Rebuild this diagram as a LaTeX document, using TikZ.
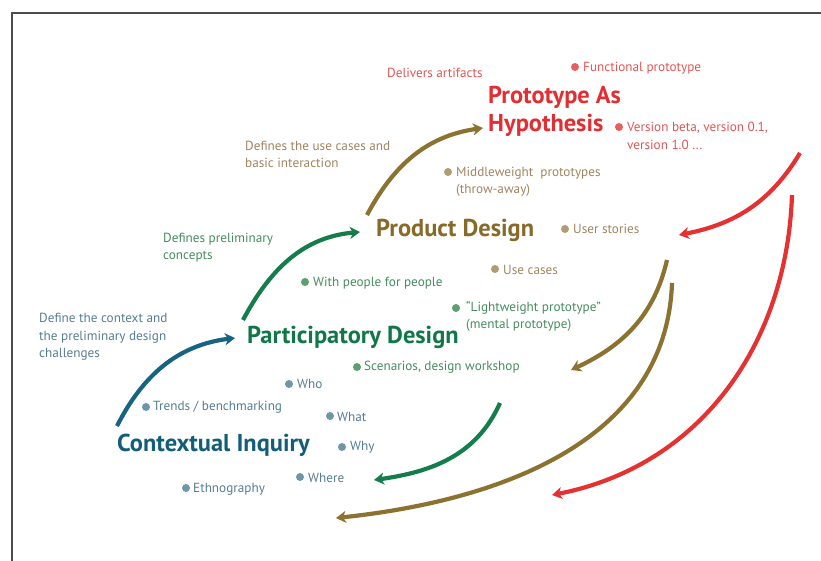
\documentclass[tikz,border=0pt]{standalone}
\usepackage{fontspec}
\setmainfont{PT Sans}
\usetikzlibrary{arrows.meta}

\definecolor{inqcol}{RGB}{18,94,120}
\definecolor{inqtext}{RGB}{85,125,145}
\definecolor{inqdot}{RGB}{110,150,168}
\definecolor{inqarrow}{RGB}{22,100,130}
\definecolor{parcol}{RGB}{16,120,72}
\definecolor{partext}{RGB}{70,140,95}
\definecolor{pardot}{RGB}{92,160,112}
\definecolor{pararrow}{RGB}{20,125,75}
\definecolor{procol}{RGB}{135,105,40}
\definecolor{protext}{RGB}{160,132,95}
\definecolor{prodot}{RGB}{176,155,115}
\definecolor{proarrow}{RGB}{140,114,48}
\definecolor{hypcol}{RGB}{226,45,50}
\definecolor{hyptext}{RGB}{225,85,85}
\definecolor{hypdot}{RGB}{230,95,95}
\definecolor{hyparrow}{RGB}{228,50,50}

\tikzset{
	note/.style={anchor=west,inner sep=0,align=left,font=\fontsize{13.2}{17.5}\selectfont},
	title/.style={anchor=west,inner sep=0,align=left,font=\fontsize{24.4}{28}\selectfont\bfseries},
	dot/.style={circle,inner sep=0,minimum size=8pt},
	flow/.style={-{Stealth[length=10pt,width=12pt,inset=3pt]},line width=4.2pt},
	frame/.style={draw=black!70,line width=1.2pt}
}

\begin{document}
\begin{tikzpicture}[x=1pt,y=1pt]
	\useasboundingbox (0,0) rectangle (821,561);
	\draw[frame] (12,0) -- (12,548) -- (821,548);
	
	%%% titles
	\node[title,text=inqcol] (ci) at (117,116) {Contextual Inquiry};
	\node[title,text=parcol] (pd) at (247,224) {Participatory Design};
	\node[title,text=procol] (prd) at (376,331) {Product Design};
	\node[title,text=hypcol] (pah) at (488,450) {Prototype As\\Hypothesis};
	
	%%% what each step does
	\node[note,text=inqtext] (ci-what) at (39,224) {Define the context and\\the preliminary design\\challenges};
	\node[note,text=partext] (pd-what) at (163,313.5) {Defines preliminary\\concepts};
	\node[note,text=protext] (prd-what) at (245,406.5) {Defines the use cases and\\basic interaction};
	\node[note,text=hyptext] (pah-what) at (387,488) {Delivers artifacts};
	
	%%% contextual inquiry items
	\node[dot,fill=inqdot] (d-tr) at (146,154) {};
	\node[note,text=inqtext] (tr) at (153,154) {Trends / benchmarking};
	\node[dot,fill=inqdot] (d-eth) at (186,73) {};
	\node[note,text=inqtext] (eth) at (193,72) {Ethnography};
	\node[dot,fill=inqdot] (d-who) at (289,177) {};
	\node[note,text=inqtext] (who) at (297,177) {Who};
	\node[dot,fill=inqdot] (d-what) at (330,145) {};
	\node[note,text=inqtext] (what) at (337,144) {What};
	\node[dot,fill=inqdot] (d-why) at (342,114) {};
	\node[note,text=inqtext] (why) at (350,114) {Why};
	\node[dot,fill=inqdot] (d-where) at (300,84) {};
	\node[note,text=inqtext] (where) at (308,83) {Where};
	
	%%% participatory design items
	\node[dot,fill=pardot] (d-wp) at (305,279) {};
	\node[note,text=partext] (wp) at (313,278) {With people for people};
	\node[dot,fill=pardot] (d-lw) at (456,253) {};
	\node[note,text=partext] (lw) at (466,244.5) {“Lightweight prototype”\\(mental prototype)};
	\node[dot,fill=pardot] (d-sc) at (357,194) {};
	\node[note,text=partext] (sc) at (364,194) {Scenarios, design workshop};
	
	%%% product design items
	\node[dot,fill=prodot] (d-mw) at (448,389) {};
	\node[note,text=protext] (mw) at (456,379) {Middleweight\ \ prototypes\\(throw-away)};
	\node[dot,fill=prodot] (d-us) at (565,332) {};
	\node[note,text=protext] (us) at (573,332) {User stories};
	\node[dot,fill=prodot] (d-uc) at (495,292) {};
	\node[note,text=protext] (uc) at (503,291) {Use cases};
	
	%%% prototype items
	\node[dot,fill=hypdot] (d-fp) at (575,494) {};
	\node[note,text=hyptext] (fp) at (583,493) {Functional prototype};
	\node[dot,fill=hypdot] (d-vb) at (619,434) {};
	\node[note,text=hyptext] (vb) at (627,425) {Version beta, version 0.1,\\version 1.0 ...};
	
	%%% arrow ends
	\coordinate (a1s) at (117,135);
	\coordinate (a1e) at (235,223);
	\coordinate (a2s) at (243,241);
	\coordinate (a2e) at (360,329);
	\coordinate (a3s) at (367,346);
	\coordinate (a3e) at (483,433);
	\coordinate (a4s) at (800,408);
	\coordinate (a4e) at (679,326);
	\coordinate (a5s) at (792,366);
	\coordinate (a5e) at (552,66);
	\coordinate (a6s) at (667,301);
	\coordinate (a6e) at (571,191);
	\coordinate (a7s) at (672,278);
	\coordinate (a7e) at (336,43);
	\coordinate (a8s) at (500,158);
	\coordinate (a8e) at (374,81);
	
	%%% forward
	\draw[flow,inqarrow] (a1s) to[out=63,in=187] (a1e);
	\draw[flow,pararrow] (a2s) to[out=62,in=185] (a2e);
	\draw[flow,proarrow] (a3s) to[out=62,in=188] (a3e);
	
	%%% back
	\draw[flow,hyparrow] (a4s) to[out=239,in=11] (a4e);
	\draw[flow,hyparrow] (a5s) to[out=268,in=11] (a5e);
	\draw[flow,proarrow] (a6s) to[out=257,in=25] (a6e);
	\draw[flow,proarrow] (a7s) to[out=268,in=6] (a7e);
	\draw[flow,pararrow] (a8s) to[out=246,in=8] (a8e);
\end{tikzpicture}
\end{document}
